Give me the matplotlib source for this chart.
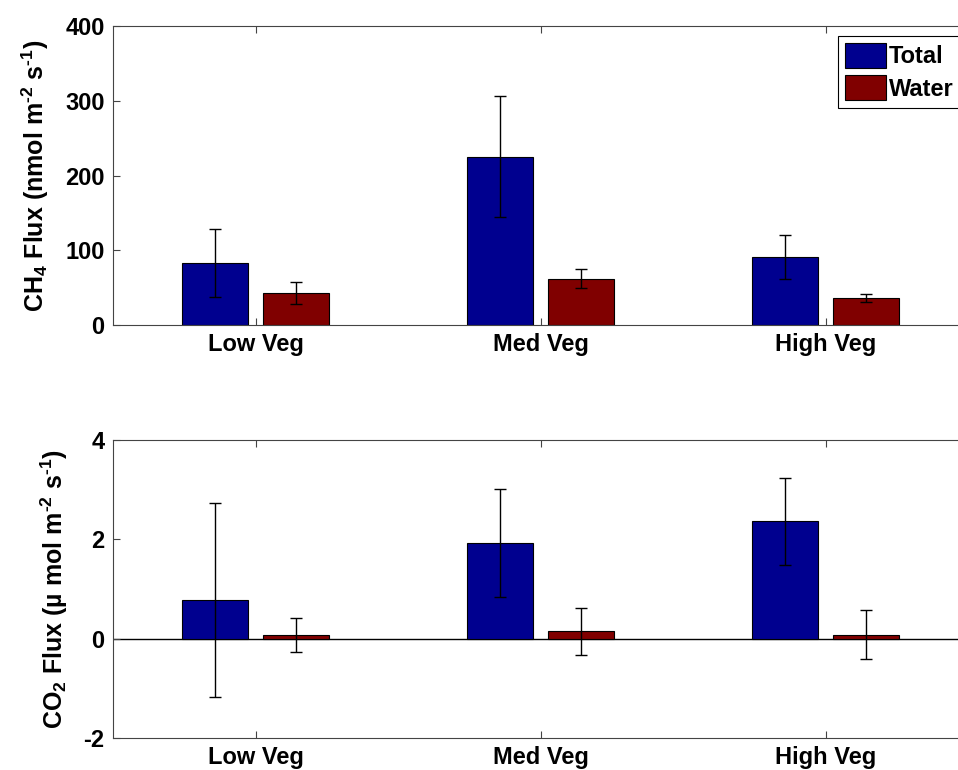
import numpy as np
import matplotlib
matplotlib.use("Agg")
import matplotlib.pyplot as plt

plt.rcParams['font.family'] = ['Liberation Sans', 'DejaVu Sans']
plt.rcParams['font.weight'] = 'bold'
plt.rcParams['mathtext.default'] = 'regular'
plt.rcParams['axes.unicode_minus'] = False

# === Dati ===
categories = ['Low Veg', 'Med Veg', 'High Veg']
series_names = ['Total', 'Water']

ch4_total = [83, 225, 91]
ch4_total_err = [45, 81, 29]
ch4_water = [43, 62, 36]
ch4_water_err = [15, 13, 5]

co2_total = [0.78, 1.92, 2.36]
co2_total_err = [1.95, 1.09, 0.87]
co2_water = [0.08, 0.15, 0.08]
co2_water_err = [0.34, 0.47, 0.50]

colors = ['#00008F', '#800000']

fig = plt.figure(figsize=(9.58, 7.7), dpi=100)
ax1 = fig.add_axes([0.118, 0.578, 0.8925, 0.388])
ax2 = fig.add_axes([0.118, 0.0416, 0.8925, 0.387])

x = np.arange(1, len(categories) + 1)
off = 0.142
w = 0.23
fs = 17


def draw(ax, tot, tot_err, wat, wat_err):
    ax.bar(x - off, tot, w, color=colors[0], edgecolor='black', linewidth=0.8,
           label=series_names[0], zorder=2)
    ax.bar(x + off, wat, w, color=colors[1], edgecolor='black', linewidth=0.8,
           label=series_names[1], zorder=2)
    ax.errorbar(x - off, tot, yerr=tot_err, fmt='none', ecolor='black',
                elinewidth=1, capsize=4.5, capthick=1, zorder=3)
    ax.errorbar(x + off, wat, yerr=wat_err, fmt='none', ecolor='black',
                elinewidth=1, capsize=4.5, capthick=1, zorder=3)
    ax.set_xlim(0.5, 3.5)
    ax.set_xticks(x)
    ax.set_xticklabels(categories, fontsize=fs, fontweight='bold')
    ax.tick_params(direction='in', top=True, right=True, length=5,
                   color='#444444', labelsize=fs, pad=6)
    for s in ax.spines.values():
        s.set_color('#444444')
        s.set_linewidth(0.8)
    for lab in ax.get_yticklabels():
        lab.set_fontweight('bold')


draw(ax1, ch4_total, ch4_total_err, ch4_water, ch4_water_err)
ax1.set_ylim(0, 400)
ax1.set_yticks([0, 100, 200, 300, 400])
ax1.set_ylabel('CH$_4$ Flux (nmol m$^{\u20102}$ s$^{\u20101}$)', fontsize=18,
               fontweight='bold', labelpad=10)
leg = ax1.legend(loc='upper right', bbox_to_anchor=(1.0, 0.99), fontsize=fs,
                 fancybox=False, edgecolor='black', framealpha=1,
                 handlelength=1.7, handleheight=1.2, handletextpad=0.15,
                 borderpad=0.3, labelspacing=0.3, borderaxespad=0.3)
leg.get_frame().set_linewidth(0.8)
for t in leg.get_texts():
    t.set_fontweight('bold')

draw(ax2, co2_total, co2_total_err, co2_water, co2_water_err)
ax2.axhline(0, color='black', linewidth=1, zorder=1)
ax2.set_ylim(-2, 4)
ax2.set_yticks([-2, 0, 2, 4])
ax2.set_ylabel('CO$_2$ Flux (\u00b5 mol m$^{\u20102}$ s$^{\u20101}$)', fontsize=18,
               fontweight='bold', labelpad=10)

plt.savefig('out.png', dpi=100)
